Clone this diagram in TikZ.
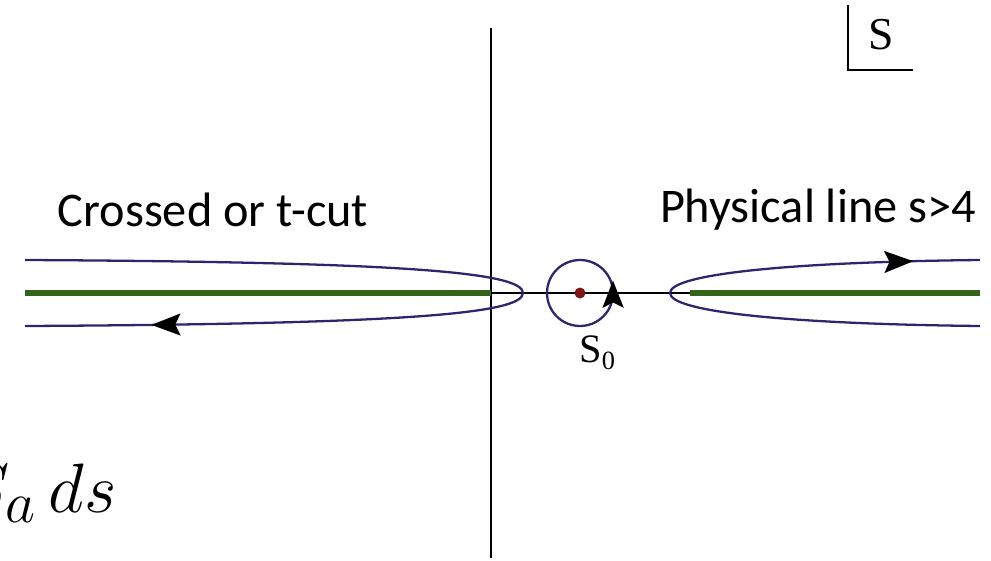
\documentclass[tikz,border=0pt]{standalone}
\usepackage{fontspec}
\setsansfont{Carlito}
\newfontfamily\serifS{Liberation Serif}
\usepackage{tikz}
\usetikzlibrary{arrows.meta,calc,positioning,decorations.markings}
\definecolor{contourblue}{RGB}{45,38,110}
\definecolor{cutgreen}{RGB}{51,100,25}
\definecolor{poleRed}{RGB}{130,20,20}
\begin{document}
\begin{tikzpicture}[x=0.02cm,y=-0.02cm,
  contour/.style={draw=contourblue,line width=1.3pt},
  cut/.style={draw=cutgreen,line width=3.4pt},
  tip/.style={decoration={markings,mark=at position #1 with {\arrow{Stealth[length=16.5pt,width=12.5pt,inset=3pt,color=black]}}},postaction=decorate},
  circtip/.style={decoration={markings,mark=at position 0.001 with {\arrow[xshift=7pt]{Stealth[length=15.5pt,width=12pt,inset=3pt,color=black]}}},postaction=decorate},
  every node/.style={inner sep=0pt}]
\useasboundingbox (0,0) rectangle (991,561);
% axes
\coordinate (top) at (491,28); \coordinate (bot) at (491,558);
\coordinate (o) at (491,293); \coordinate (th) at (690,293);
\coordinate (lend) at (25,293); \coordinate (rend) at (980,293);
\draw[line width=1.1pt] (top)--(bot);
\draw[line width=1.1pt] (o)--(th);
\draw[cut] (lend)--(o);\draw[cut] (th)--(rend);
% contours
\draw[contour,tip=-72pt] (25,260) .. controls (400,262) and (523,272) .. (523,293) .. controls (523,314) and (400,324) .. (25,326);
\draw[contour,tip=-38pt] (980,326) .. controls (790,324) and (670,312) .. (670,293) .. controls (670,274) and (790,262) .. (980,260);
\coordinate (s0) at (580,293);
\draw[contour,circtip] ($(s0)+(33,0)$) arc[start angle=0,end angle=-360,radius=33];
\fill[poleRed] (s0) circle[radius=5.5];
% labels
\node[anchor=base west,font=\serifS\fontsize{23}{26}\selectfont] (s0lab) at (579,362) {S\raisebox{-4.5pt}{\fontsize{15}{16}\selectfont 0}};
\node[font=\sffamily\fontsize{27.5}{32}\selectfont] (tcut) at (213,210) {Crossed or t-cut};
\node[font=\sffamily\fontsize{27.5}{32}\selectfont] (phys) at (818,210) {Physical line s>4};
\node[anchor=base,font=\serifS\fontsize{26}{30}\selectfont] (splane) at (881,50) {S};
\draw[line width=1.1pt] (848,5)--(848,70)--(913,70);
\node[anchor=base east,font=\Huge] (integrand) at (117,512) {\scalebox{1.6}{$S_a\,ds$}};
\end{tikzpicture}
\end{document}
